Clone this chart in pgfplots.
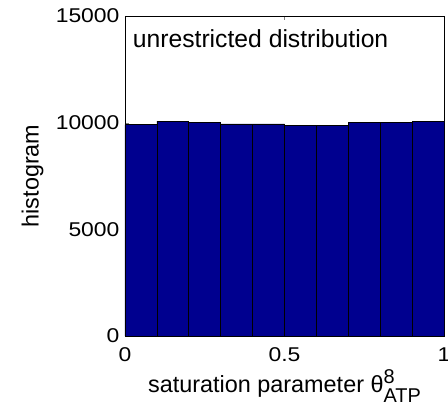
\documentclass[border=0pt]{standalone}
\usepackage{fontspec}
\setmainfont{Liberation Sans}
\newfontfamily\tickfont{Liberation Sans}[FakeStretch=1.15]
\usepackage{pgfplots}
\pgfplotsset{compat=1.18}
\definecolor{barblue}{RGB}{0,0,143}

\begin{document}
\begin{tikzpicture}
\path[use as bounding box] (-125bp,-69bp) rectangle (323bp,336bp);
\begin{axis}[
    at={(0,0)}, anchor=south west,
    scale only axis,
    width=319bp, height=320bp,
    xmin=0, xmax=1,
    ymin=0, ymax=15000,
    xtick={0,0.5,1},
    ytick={0,5000,10000,15000},
    xticklabels={0,0.5,1},
    yticklabels={0,5000,10000,15000},
    scaled y ticks=false,
    tick align=inside,
    major tick length=4bp,
    axis line style={line width=0.8pt},
    tick label style={font=\tickfont\fontsize{20}{22}\selectfont},
    label style={font=\fontsize{23.5}{26}\selectfont},
    ylabel={histogram},
    xlabel={saturation parameter θ\rlap{\raisebox{9bp}{\fontsize{20}{22}\selectfont 8}}\raisebox{-10bp}{\fontsize{20}{22}\selectfont ATP}},
    ylabel style={at={(axis description cs:-0.29,0.5)}, anchor=center},
    xlabel style={at={(axis description cs:0.5,0)}, anchor=base, yshift=-56bp},
    yticklabel style={xshift=-2bp},
    xticklabel style={yshift=-8bp},
]
\addplot[ybar interval, fill=barblue, draw=black, line width=0.8pt]
    coordinates {
        (0.0,9905) (0.1,10075) (0.2,10000) (0.3,9940) (0.4,9940)
        (0.5,9880) (0.6,9880) (0.7,10000) (0.8,10000) (0.9,10075)
        (1.0,10075)
    };
\node[anchor=base west, inner sep=0pt, font=\fontsize{24.8}{27}\selectfont] at (rel axis cs:0.024,0.902) {unrestricted distribution};
\end{axis}
\end{tikzpicture}
\end{document}
